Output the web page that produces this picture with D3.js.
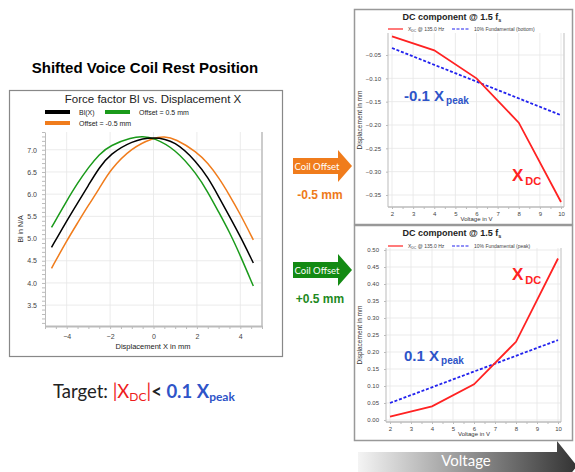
<!DOCTYPE html>
<meta charset="utf-8">
<style>
body { margin: 0; background: #fff; }
svg { display: block; font-family: "Liberation Sans", Arial, sans-serif; }
.grid line { stroke: #e6e6e6; stroke-width: 0.8; }
.axis text { fill: #444; }
.axis path, .axis line { stroke: #bbb; }
.cal { font-family: Lato, "Open Sans", sans-serif; }
</style>
<script src="https://d3js.org/d3.v7.min.js"></script>
<body>
<svg width="575" height="472"></svg>
</body>
<script>

// ---- data ----
// Force factor Bl(x), x in mm
var blBase   = [[-4.7,4.8],[-4,5.4],[-3.5,5.8],[-3,6.2],[-2.5,6.6],[-2,6.9],[-1,7.2],[0,7.3],[1,7.2],[2,6.72],[2.5,6.38],[3,5.95],[3.5,5.5],[4,5.05],[4.6,4.45]];
var blPlus   = [[-4.7,5.25],[-4,5.85],[-3.5,6.25],[-3,6.6],[-2.5,6.9],[-2,7.1],[-1,7.28],[-0.5,7.3],[0,7.27],[1,7.02],[2,6.45],[2.5,6.05],[3,5.6],[3.5,5.15],[4,4.62],[4.6,3.93]];
var blMinus  = [[-4.7,4.33],[-4,4.95],[-3.5,5.35],[-3,5.75],[-2.5,6.12],[-2,6.55],[-1,7.05],[0,7.27],[0.5,7.3],[1,7.25],[2,6.95],[2.5,6.7],[3,6.38],[3.5,5.98],[4,5.55],[4.6,4.97]];

// DC component vs voltage (V)
var voltage      = [2, 4, 6, 8, 10];
var xdcMinus     = [-0.01, -0.04, -0.10, -0.195, -0.365];
var xdcPlus      = [0.01, 0.04, 0.105, 0.23, 0.475];
var fundBottom   = [[2, -0.035], [10, -0.179]];
var fundPeak     = [[2, 0.05], [10, 0.235]];

var blTicksY = [3.5, 4.0, 4.5, 5.0, 5.5, 6.0, 6.5, 7.0];
var blTicksX = [-4, -2, 0, 2, 4];
var vTicks   = [2, 3, 4, 5, 6, 7, 8, 9, 10];
var topTicks = [-0.05, -0.10, -0.15, -0.20, -0.25, -0.30, -0.35];
var botTicks = [0.00, 0.05, 0.10, 0.15, 0.20, 0.25, 0.30, 0.35, 0.40, 0.45, 0.50];

var svg = d3.select("svg");

// ---------- left: Bl vs displacement ----------
svg.append("text").attr("x", 145).attr("y", 73).attr("text-anchor", "middle")
   .style("font-size", "15px").style("font-weight", "bold").text("Shifted Voice Coil Rest Position");

svg.append("rect").attr("x", 9.5).attr("y", 90.5).attr("width", 273).attr("height", 266)
   .attr("fill", "#fff").attr("stroke", "#888").attr("stroke-width", 1.2);

svg.append("text").attr("x", 153).attr("y", 103).attr("text-anchor", "middle")
   .style("font-size", "11.5px").attr("fill", "#222").text("Force factor Bl vs. Displacement X");

var legL = [
  {c: "#000", t: "Bl(X)", x: 45, y: 112},
  {c: "#1a9a1a", t: "Offset = 0.5 mm", x: 105, y: 112},
  {c: "#f07c1c", t: "Offset = -0.5 mm", x: 45, y: 123}
];
legL.forEach(function(d) {
  svg.append("line").attr("x1", d.x).attr("x2", d.x + 25).attr("y1", d.y).attr("y2", d.y)
     .attr("stroke", d.c).attr("stroke-width", 4);
  svg.append("text").attr("x", d.x + 34).attr("y", d.y + 2.5).style("font-size", "7px")
     .attr("fill", "#222").text(d.t);
});

var xL = d3.scaleLinear().domain([-5, 5]).range([45, 262]);
var yL = d3.scaleLinear().domain([3.03, 7.4]).range([326, 132]);

var gL = svg.append("g");
gL.append("g").attr("class", "grid").selectAll("line").data(blTicksY).enter().append("line")
  .attr("x1", 45).attr("x2", 262).attr("y1", function(d) { return yL(d); }).attr("y2", function(d) { return yL(d); });
gL.append("g").attr("class", "grid").selectAll("line").data(blTicksX).enter().append("line")
  .attr("y1", 132).attr("y2", 326).attr("x1", function(d) { return xL(d); }).attr("x2", function(d) { return xL(d); });

gL.append("line").attr("x1", 262).attr("x2", 262).attr("y1", 132).attr("y2", 327).attr("stroke", "#ccc").attr("stroke-width", 2);

gL.append("g").attr("class", "axis").attr("transform", "translate(0,326)")
  .call(d3.axisBottom(xL).tickValues(d3.range(-5, 5.01, 0.5)).tickSize(3).tickFormat(""));
gL.append("g").attr("class", "axis").attr("transform", "translate(0,326)")
  .call(d3.axisBottom(xL).tickValues(blTicksX).tickSize(0).tickPadding(8).tickFormat(d3.format("d")))
  .call(function(g) { g.select(".domain").attr("stroke", "#ccc").attr("stroke-width", 2); })
  .selectAll("text").style("font-size", "7px");
gL.append("g").attr("class", "axis").attr("transform", "translate(45,0)")
  .call(d3.axisLeft(yL).tickValues(d3.range(3.1, 7.4, 0.1)).tickSize(3).tickFormat(""))
  .call(function(g) { g.select(".domain").remove(); });
gL.append("g").attr("class", "axis").attr("transform", "translate(45,0)")
  .call(d3.axisLeft(yL).tickValues(blTicksY).tickSize(0).tickPadding(8).tickFormat(d3.format(".1f")))
  .call(function(g) { g.select(".domain").attr("stroke", "#ddd"); })
  .selectAll("text").style("font-size", "7px");

svg.append("text").attr("transform", "translate(23,229) rotate(-90)").attr("text-anchor", "middle")
   .style("font-size", "7px").attr("fill", "#333").text("Bl in N/A");
svg.append("text").attr("x", 153).attr("y", 349).attr("text-anchor", "middle")
   .style("font-size", "7.5px").attr("fill", "#222").text("Displacement X in mm");

var lineL = d3.line().x(function(d) { return xL(d[0]); }).y(function(d) { return yL(d[1]); }).curve(d3.curveBasis);
[[blMinus, "#f07c1c"], [blPlus, "#1a9a1a"], [blBase, "#000"]].forEach(function(s) {
  gL.append("path").datum(s[0]).attr("d", lineL).attr("fill", "none").attr("stroke", s[1]).attr("stroke-width", 1.5);
});

// target text
var tgt = svg.append("text").attr("class", "cal").attr("x", 53).attr("y", 398).style("font-size", "18.5px");
tgt.append("tspan").attr("fill", "#222").text("Target:  ");
tgt.append("tspan").attr("fill", "#ee1c1c").text("|X");
tgt.append("tspan").attr("fill", "#ee1c1c").style("font-size", "12px").attr("dy", 3).text("DC");
tgt.append("tspan").attr("fill", "#ee1c1c").attr("dy", -3).text("|");
tgt.append("tspan").attr("fill", "#222").style("font-weight", "bold").text("< ");
tgt.append("tspan").attr("fill", "#2e54c8").style("font-weight", "bold").text("0.1 X");
tgt.append("tspan").attr("fill", "#2e54c8").style("font-weight", "bold").style("font-size", "12px").attr("dy", 3).text("peak");

// ---------- arrows ----------
function arrow(cy, col, label, sub, subCol) {
  var pts = [[293, cy - 8], [338, cy - 8], [338, cy - 16], [352, cy], [338, cy + 16], [338, cy + 8], [293, cy + 8]];
  svg.append("polygon").attr("points", pts.join(" ")).attr("fill", col);
  svg.append("text").attr("class", "cal").attr("x", 317).attr("y", cy + 3.5).attr("text-anchor", "middle")
     .attr("fill", "#fff").style("font-size", "9.5px").text(label);
  svg.append("text").attr("x", 320).attr("y", cy + 33).attr("text-anchor", "middle")
     .attr("fill", subCol).style("font-size", "12px").style("font-weight", "bold").text(sub);
}
arrow(166, "#f07c1c", "Coil Offset", "-0.5 mm", "#ee7a1a");
arrow(270, "#138a13", "Coil Offset", "+0.5 mm", "#1e8a1e");

// voltage arrow
var grad = svg.append("defs").append("linearGradient").attr("id", "vgrad");
grad.append("stop").attr("offset", "0%").attr("stop-color", "#f4f4f4");
grad.append("stop").attr("offset", "100%").attr("stop-color", "#333");
svg.append("polygon").attr("points", [[358, 452], [557, 452], [557, 441], [577, 466], [557, 491], [557, 480], [358, 480]].join(" "))
   .attr("fill", "url(#vgrad)");
svg.append("text").attr("class", "cal").attr("x", 466).attr("y", 466).attr("text-anchor", "middle")
   .attr("fill", "#fff").style("font-size", "15px").text("Voltage");

// ---------- right: DC component charts ----------
function dcChart(o) {
  var g = svg.append("g");
  g.append("rect").attr("x", 354.5).attr("y", o.boxTop + 0.5).attr("width", 218).attr("height", o.boxH)
   .attr("fill", "#fff").attr("stroke", "#999").attr("stroke-width", 1.5);

  var x = d3.scaleLinear().domain([2, 10]).range(o.xr);
  var y = d3.scaleLinear().domain(o.ydom).range(o.yr);

  var title = g.append("text").attr("x", 452).attr("y", o.titleY).attr("text-anchor", "middle")
    .style("font-size", "9px").style("font-weight", "bold").attr("fill", "#222");
  title.append("tspan").text("DC component @ 1.5 f");
  title.append("tspan").style("font-size", "5.5px").attr("dy", 2).text("s");

  // legend
  g.append("line").attr("x1", 388).attr("x2", 403).attr("y1", o.legY).attr("y2", o.legY).attr("stroke", "#f22").attr("stroke-width", 1.2);
  var lt = g.append("text").attr("x", 408).attr("y", o.legY + 2).style("font-size", "5px").attr("fill", "#444");
  lt.append("tspan").text("X");
  lt.append("tspan").style("font-size", "3.5px").attr("dy", 1).text("DC");
  lt.append("tspan").attr("dy", -1).text(" @ 135.0 Hz");
  g.append("line").attr("x1", 452).attr("x2", 469).attr("y1", o.legY).attr("y2", o.legY).attr("stroke", "#22e").attr("stroke-width", 1.2).attr("stroke-dasharray", "3,1.5");
  g.append("text").attr("x", 474).attr("y", o.legY + 2).style("font-size", "5px").attr("fill", "#444").text(o.legText);

  // grid
  g.append("g").attr("class", "grid").selectAll("line").data(o.ticks).enter().append("line")
   .attr("x1", o.plotL).attr("x2", o.plotR).attr("y1", function(d) { return y(d); }).attr("y2", function(d) { return y(d); });
  g.append("g").attr("class", "grid").selectAll("line").data(vTicks).enter().append("line")
   .attr("y1", o.plotT).attr("y2", o.plotB).attr("x1", function(d) { return x(d); }).attr("x2", function(d) { return x(d); });
  g.append("line").attr("x1", o.plotR).attr("x2", o.plotR).attr("y1", o.plotT).attr("y2", o.plotB).attr("stroke", "#d4d4d4").attr("stroke-width", 1.5);

  g.append("g").attr("class", "axis").attr("transform", "translate(0," + o.plotB + ")")
   .call(d3.axisBottom(x).tickValues(d3.range(2, 10.01, 0.5)).tickSize(2).tickFormat(""))
   .call(function(s) { s.select(".domain").attr("d", "M" + o.plotL + ",0H" + o.plotR).attr("stroke", "#ccc").attr("stroke-width", 1.5); });
  g.append("g").attr("class", "axis").attr("transform", "translate(0," + o.plotB + ")")
   .call(d3.axisBottom(x).tickValues(vTicks).tickSize(0).tickPadding(5).tickFormat(d3.format("d")))
   .call(function(s) { s.select(".domain").remove(); })
   .selectAll("text").style("font-size", "6px");
  g.append("g").attr("class", "axis").attr("transform", "translate(" + o.plotL + ",0)")
   .call(d3.axisLeft(y).tickValues(o.ticks).tickSize(2).tickPadding(5).tickFormat(d3.format(".2f")))
   .call(function(s) { s.select(".domain").attr("d", "M0," + o.plotT + "V" + o.plotB).attr("stroke", "#ddd"); })
   .selectAll("text").style("font-size", "6px");

  g.append("text").attr("transform", "translate(362," + ((o.plotT + o.plotB) / 2) + ") rotate(-90)")
   .attr("text-anchor", "middle").style("font-size", "6.5px").attr("fill", "#333").text("Displacement in mm");
  g.append("text").attr("x", (o.xr[0] + o.xr[1]) / 2).attr("y", o.plotB + 14).attr("text-anchor", "middle")
   .style("font-size", "6px").attr("fill", "#333").text("Voltage in V");

  var ln = d3.line().x(function(d) { return x(d[0]); }).y(function(d) { return y(d[1]); });
  g.append("path").datum(o.fund).attr("d", ln).attr("fill", "none").attr("stroke", "#22e").attr("stroke-width", 1.8).attr("stroke-dasharray", "3,1.8");
  g.append("path").datum(voltage.map(function(v, i) { return [v, o.xdc[i]]; })).attr("d", ln)
   .attr("fill", "none").attr("stroke", "#f22").attr("stroke-width", 1.8);

  // annotations
  var a = g.append("text").attr("x", 404).attr("y", o.peakY).attr("fill", "#2e54c8").style("font-weight", "bold").style("font-size", "15px");
  a.append("tspan").text(o.peakLabel);
  a.append("tspan").style("font-size", "10px").attr("dx", 2).attr("dy", 3).text("peak");
  var b = g.append("text").attr("x", 512).attr("y", o.dcY).attr("fill", "#f22").style("font-weight", "bold").style("font-size", "17px");
  b.append("tspan").text("X");
  b.append("tspan").style("font-size", "11px").attr("dx", 2).attr("dy", 4).text("DC");
}

dcChart({
  boxTop: 9, boxH: 215, titleY: 20, legY: 29, legText: "10% Fundamental (bottom)",
  xr: [392, 561], plotL: 388, plotR: 564, plotT: 33, plotB: 207,
  ydom: [-0.05, -0.35], yr: [55, 195], ticks: topTicks,
  xdc: xdcMinus, fund: fundBottom, peakLabel: "-0.1 X", peakY: 101, dcY: 181
});
dcChart({
  boxTop: 225, boxH: 215, titleY: 236, legY: 246, legText: "10% Fundamental (peak)",
  xr: [390, 558], plotL: 386, plotR: 561, plotT: 248, plotB: 422,
  ydom: [0, 0.5], yr: [420, 250], ticks: botTicks,
  xdc: xdcPlus, fund: fundPeak, peakLabel: "0.1 X", peakY: 361, dcY: 280
});

</script>
